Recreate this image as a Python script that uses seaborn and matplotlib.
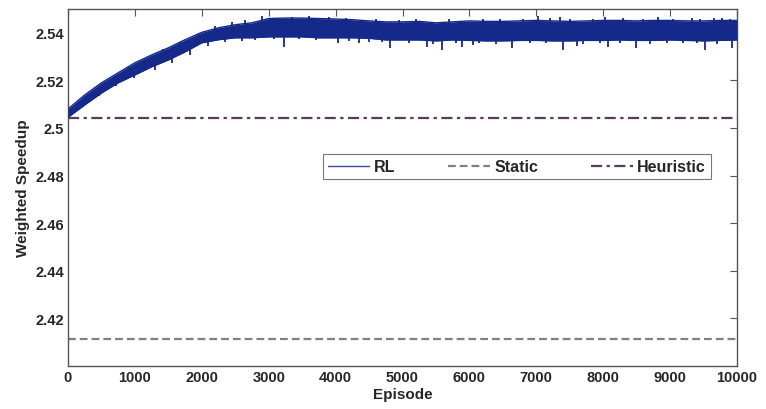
import matplotlib
matplotlib.use("Agg")
import matplotlib.pyplot as plt
import seaborn as sns
import numpy as np
import pandas as pd
from matplotlib.lines import Line2D

# ---- data ----
episodes = [0, 250, 500, 750, 1000, 1250, 1500, 1750, 2000, 2250, 2500, 2750,
            3000, 3250, 3500, 3750, 4000, 4250, 4500, 4750, 5000, 5250, 5500,
            5750, 6000, 6250, 6500, 6750, 7000, 7250, 7500, 7750, 8000, 8250,
            8500, 8750, 9000, 9250, 9500, 9750, 10000]
rl_low = [2.5045, 2.5097, 2.5147, 2.5190, 2.5223, 2.5257, 2.5286, 2.5320,
          2.5358, 2.5371, 2.5379, 2.5379, 2.5383, 2.5383, 2.5383, 2.5379,
          2.5379, 2.5379, 2.5377, 2.5370, 2.5370, 2.5370, 2.5366, 2.5370,
          2.5368, 2.5366, 2.5366, 2.5368, 2.5368, 2.5366, 2.5366, 2.5368,
          2.5368, 2.5370, 2.5368, 2.5368, 2.5370, 2.5368, 2.5366, 2.5368,
          2.5370]
rl_high = [2.5080, 2.5139, 2.5190, 2.5232, 2.5274, 2.5307, 2.5337, 2.5371,
           2.5402, 2.5421, 2.5434, 2.5442, 2.5460, 2.5462, 2.5462, 2.5460,
           2.5458, 2.5455, 2.5450, 2.5446, 2.5446, 2.5448, 2.5442, 2.5446,
           2.5450, 2.5448, 2.5448, 2.5450, 2.5452, 2.5450, 2.5448, 2.5450,
           2.5452, 2.5452, 2.5450, 2.5452, 2.5452, 2.5450, 2.5450, 2.5452,
           2.5452]
# larger isolated spikes visible in the noisy RL curve
spike_ep = [2895, 3080, 3229, 4041, 4350, 4813, 5361, 5590, 5885, 6054, 6632,
            7025, 7354, 7399, 7603, 8027, 8072, 8486, 8815, 9327, 9522, 9771,
            9921]
spike_val = [2.5469, 2.5375, 2.5341, 2.5358, 2.5358, 2.5337, 2.5341, 2.5328,
             2.5341, 2.5350, 2.5337, 2.5471, 2.5467, 2.5328, 2.5345, 2.5467,
             2.5341, 2.5337, 2.5467, 2.5463, 2.5328, 2.5463, 2.5337]
# small jags along the band edges (upper and lower)
jag_up_ep = [120, 380, 640, 900, 1150, 1420, 1680, 1950, 2200, 2450, 2650,
             3350, 3600, 3900, 4150, 4600, 4950, 5200, 5700, 6200, 6450,
             6800, 7200, 7500, 7850, 8300, 8600, 9050, 9450, 9650, 9900]
jag_up_val = [2.5095, 2.5155, 2.5205, 2.5255, 2.5290, 2.5330, 2.5362, 2.5395,
              2.5430, 2.5445, 2.5452, 2.5468, 2.5470, 2.5466, 2.5464, 2.5458,
              2.5455, 2.5458, 2.5456, 2.5458, 2.5456, 2.5460, 2.5462, 2.5458,
              2.5460, 2.5461, 2.5459, 2.5460, 2.5458, 2.5461, 2.5460]
jag_dn_ep = [200, 460, 720, 980, 1300, 1560, 1820, 2100, 2350, 2600, 2800,
             3450, 3700, 4200, 4500, 4700, 5100, 5450, 5800, 6150, 6400, 6900,
             7150, 7700, 7950, 8250, 8700, 8950, 9200, 9400, 9700]
jag_dn_val = [2.5085, 2.5135, 2.5178, 2.5212, 2.5245, 2.5275, 2.5305, 2.5345,
              2.5360, 2.5366, 2.5368, 2.5372, 2.5368, 2.5366, 2.5362, 2.5360,
              2.5358, 2.5355, 2.5358, 2.5356, 2.5355, 2.5357, 2.5356, 2.5355,
              2.5357, 2.5356, 2.5355, 2.5357, 2.5356, 2.5358, 2.5355]
static_val = 2.4112
heuristic_val = 2.5040
x_ticks = [0, 1000, 2000, 3000, 4000, 5000, 6000, 7000, 8000, 9000, 10000]
y_ticks = [2.42, 2.44, 2.46, 2.48, 2.50, 2.52, 2.54]
y_tick_labels = ["2.42", "2.44", "2.46", "2.48", "2.5", "2.52", "2.54"]

# ---- styling ----
sns.set_theme(style="white")
plt.rcParams["font.family"] = ["Liberation Sans", "DejaVu Sans"]
plt.rcParams["font.weight"] = "bold"

rl_color = "#15298a"
static_color = "#808080"
heur_color = "#5b3a5b"

fig = plt.figure(figsize=(7.66, 4.10), dpi=100)
ax = fig.add_axes([68 / 766, 1 - 367 / 410, (737 - 68) / 766, (367 - 10) / 410])

df_rl = pd.DataFrame({"Episode": episodes + episodes,
                      "val": rl_low + rl_high,
                      "edge": ["lo"] * len(episodes) + ["hi"] * len(episodes)})

ax.fill_between(episodes, rl_low, rl_high, color=rl_color, linewidth=0, zorder=3)
sns.lineplot(data=df_rl, x="Episode", y="val", units="edge", estimator=None,
             color=rl_color, linewidth=1.0, ax=ax, zorder=3, legend=False)

ep_arr = np.array(episodes, dtype=float)
lo_arr = np.array(rl_low)
hi_arr = np.array(rl_high)


def mid_at(e):
    return (np.interp(e, ep_arr, lo_arr) + np.interp(e, ep_arr, hi_arr)) / 2


for e, v in zip(spike_ep + jag_up_ep + jag_dn_ep,
                spike_val + jag_up_val + jag_dn_val):
    base = mid_at(e)
    ax.vlines(e, min(base, v), max(base, v), color=rl_color, linewidth=1.3, zorder=3)

df_static = pd.DataFrame({"Episode": [0, 10000], "val": [static_val, static_val]})
df_heur = pd.DataFrame({"Episode": [0, 10000], "val": [heuristic_val, heuristic_val]})
sns.lineplot(data=df_static, x="Episode", y="val", color=static_color,
             linewidth=1.6, ax=ax, zorder=2)
ax.lines[-1].set_dashes([3.5, 1.8])
sns.lineplot(data=df_heur, x="Episode", y="val", color=heur_color,
             linewidth=1.6, ax=ax, zorder=2)
ax.lines[-1].set_dashes([5, 2, 1.5, 2])

ax.set_xlim(0, 10000)
ax.set_ylim(2.40, 2.55)
ax.set_xticks(x_ticks)
ax.set_xticklabels([str(t) for t in x_ticks])
ax.set_yticks(y_ticks)
ax.set_yticklabels(y_tick_labels)
ax.tick_params(axis="both", direction="in", length=5, width=0.8, color="#555555",
               labelsize=10.5, top=True, right=True, pad=3)
for lab in ax.get_xticklabels() + ax.get_yticklabels():
    lab.set_fontweight("bold")
for s in ax.spines.values():
    s.set_color("#555555")
    s.set_linewidth(1.0)
ax.set_xlabel("Episode", fontsize=11, fontweight="bold", labelpad=2)
ax.set_ylabel("Weighted Speedup", fontsize=11, fontweight="bold", labelpad=4)

handles = [Line2D([], [], color="#3848a8", linewidth=1.0),
           Line2D([], [], color=static_color, linewidth=1.6, dashes=[3.5, 1.8]),
           Line2D([], [], color=heur_color, linewidth=1.6, dashes=[5, 2, 1.5, 2])]
leg = ax.legend(handles, ["RL", "Static", "Heuristic"], ncol=3,
                loc="lower left", bbox_to_anchor=(0.381, 0.524, 0.58, 0.075),
                mode="expand", frameon=True, fancybox=False, framealpha=1,
                edgecolor="#777777", prop={"size": 11.5, "weight": "bold"},
                handlelength=2.6, handletextpad=0.3, borderaxespad=0,
                borderpad=0.3)
leg.get_frame().set_linewidth(0.8)

fig.savefig("out.png", dpi=100)
